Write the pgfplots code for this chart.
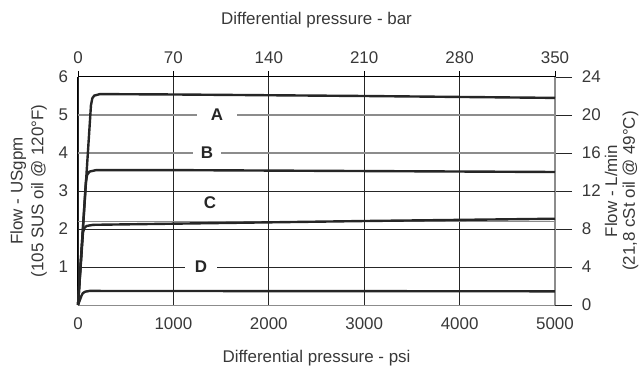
\documentclass[border=0pt]{standalone}
\usepackage{pgfplots}
\pgfplotsset{compat=1.18}
\usepackage{fontspec}
\setmainfont{Liberation Sans}
\definecolor{txt}{gray}{0.22}
\definecolor{lgray}{gray}{0.55}
\definecolor{dgray}{gray}{0.15}
\begin{document}
\fontsize{17}{20}\selectfont
\begin{tikzpicture}
\useasboundingbox (-78bp,-65bp) rectangle (561bp,305bp);
\pgfplotsset{every axis/.append style={
  width=477bp, height=228bp, scale only axis, at={(0,0)}, anchor=south west,
  /pgf/number format/assume math mode=true,
  tick label style={font=\fontsize{17}{20}\selectfont, text=txt},
  label style={font=\fontsize{17}{20}\selectfont, text=txt},
  scaled ticks=false,
  /pgf/number format/1000 sep={},
}}
% top axis (bar) with vertical grid lines
\begin{axis}[
  xmin=0, xmax=350, ymin=0, ymax=6,
  axis x line*=top, axis y line=none,
  xtick={0,70,...,350}, ytick=\empty,
  tick align=outside, major tick length=6bp,
  xtick style={black, line width=0.8bp},
  xmajorgrids, grid style={dgray, line width=0.8bp},
  axis line style={black, line width=1bp},
  xticklabel style={yshift=1bp},
  xlabel={Differential pressure - bar},
  xlabel style={at={(axis description cs:0.5,1)}, anchor=center, yshift=57bp},
]
\end{axis}
% right axis (L/min)
\begin{axis}[
  xmin=0, xmax=350, ymin=0, ymax=24,
  axis x line=none, axis y line*=right,
  ytick={0,4,...,24}, xtick=\empty,
  tick align=outside, major tick length=17bp,
  ytick style={dgray, line width=0.9bp},
  axis line style={lgray, line width=1.2bp},
  yticklabel style={xshift=4bp},
  ylabel={\begin{tabular}{c}Flow - L/min\\[-2bp](21,8 cSt oil @ 49°C)\end{tabular}},
  ylabel style={at={(axis description cs:1.1405,0.5)}, anchor=center, rotate=0},
]
\end{axis}
% main axis (psi, USgpm)
\begin{axis}[
  xmin=0, xmax=5000, ymin=0, ymax=6,
  axis x line*=bottom, axis y line*=left,
  xtick={0,1000,...,5000}, ytick={1,...,6},
  major tick length=0pt,
  xticklabel style={yshift=-7bp},
  yticklabel style={xshift=-4bp},
  axis line style={black, line width=1bp},
  x axis line style={lgray},
  xlabel={Differential pressure - psi},
  xlabel style={at={(axis description cs:0.5,0)}, anchor=center, yshift=-53bp},
  ylabel={\begin{tabular}{c}Flow - USgpm\\[1bp](105 SUS oil @ 120°F)\end{tabular}},
  ylabel style={at={(axis description cs:-0.1027,0.5)}, anchor=center, rotate=0},
  clip=false,
]
% horizontal grid lines
\addplot[lgray, line width=1.1bp] coordinates {(0,5) (5000,5)};
\addplot[lgray, line width=1.1bp] coordinates {(0,4) (5000,4)};
\addplot[dgray, line width=0.9bp] coordinates {(0,3) (5000,3)};
\addplot[lgray, line width=1.1bp] coordinates {(0,2.2) (5000,2.2)};
\addplot[dgray, line width=0.9bp] coordinates {(0,2) (5000,2)};
\addplot[dgray, line width=0.9bp] coordinates {(0,1) (5000,1)};
% curve labels
\node[fill=white, minimum width=40bp, inner ysep=2bp, font=\fontsize{17}{20}\selectfont\bfseries, text=dgray] at (axis cs:1457,5) {A};
\node[fill=white, minimum width=28bp, inner ysep=2bp, font=\fontsize{17}{20}\selectfont\bfseries, text=dgray] at (axis cs:1352,4) {B};
\node[font=\fontsize{17}{20}\selectfont\bfseries, text=dgray] at (axis cs:1384,2.68) {C};
\node[fill=white, minimum width=32bp, inner ysep=2bp, font=\fontsize{17}{20}\selectfont\bfseries, text=dgray] at (axis cs:1289,1) {D};
% curves
\addplot[dgray, line width=2.4bp, line join=round] coordinates {
 (0,0) (136,5.26) (150,5.44) (170,5.51) (230,5.55) (1000,5.54) (3000,5.5) (5000,5.45)};
\addplot[dgray, line width=2.4bp, line join=round] coordinates {
 (0,0) (82,3.22) (95,3.42) (120,3.51) (190,3.55) (1000,3.55) (5000,3.5)};
\addplot[dgray, line width=2.4bp, line join=round] coordinates {
 (0,0) (52,1.9) (65,2.02) (90,2.08) (160,2.11) (1000,2.14) (3000,2.21) (5000,2.27)};
\addplot[dgray, line width=2.4bp, line join=round] coordinates {
 (0,0) (36,0.24) (50,0.31) (75,0.35) (120,0.37) (5000,0.36)};
\end{axis}
\end{tikzpicture}
\end{document}
